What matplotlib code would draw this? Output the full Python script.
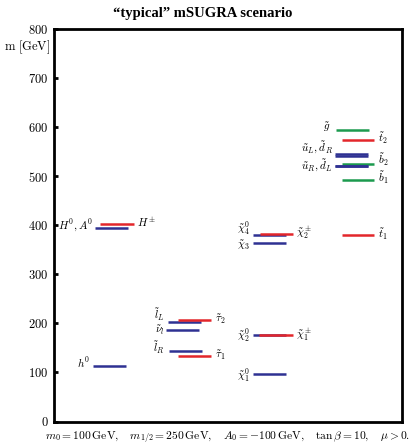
import matplotlib
matplotlib.use("Agg")
from matplotlib import pyplot as plt

plt.rcParams['mathtext.fontset'] = 'cm'
plt.rcParams['font.family'] = ['DejaVu Serif']

BLUE = '#2e3192'
RED = '#e3262b'
GREEN = '#1c9a4e'

# masses in GeV
higgs_names = ['h0', 'H0A0', 'Hpm']
higgs_mass = [114, 395, 403]
slepton_names = ['lL', 'tau2', 'nul', 'lR', 'tau1']
slepton_mass = [203, 206, 186, 144, 134]
gaugino_names = ['chi10', 'chi20', 'chi1pm', 'chi30', 'chi40', 'chi2pm']
gaugino_mass = [97, 177, 177, 363, 381, 383]
squark_names = ['gluino', 't2', 'uL', 'dR', 'b2', 'uR', 'dL', 'b1', 't1']
squark_mass = [595, 573, 546, 541, 525, 520, 521, 492, 380]

# horizontal placement (x0, x1, colour) for each level
layout = {
    'h0': (93, 126, BLUE), 'H0A0': (95, 128, BLUE), 'Hpm': (100, 134, RED),
    'lL': (168, 201, BLUE), 'tau2': (178, 211, RED), 'nul': (166, 199, BLUE),
    'lR': (169, 202, BLUE), 'tau1': (178, 211, RED),
    'chi10': (253, 286, BLUE), 'chi20': (253, 286, BLUE), 'chi1pm': (259, 293, RED),
    'chi30': (253, 286, BLUE), 'chi40': (253, 286, BLUE), 'chi2pm': (260, 293, RED),
    'gluino': (336, 369, GREEN), 't2': (342, 374, RED), 'uL': (335, 368, BLUE),
    'dR': (335, 368, BLUE), 'b2': (342, 374, GREEN), 'uR': (335, 368, BLUE),
    'dL': (335, 368, BLUE), 'b1': (342, 374, GREEN), 't1': (342, 374, RED),
}

# labels: (text, x, mass, alignment)
labels = [
    (r'$h^0$', 90, 120, 'right'),
    (r'$H^0, A^0$', 93, 399, 'right'),
    (r'$H^\pm$', 137, 406, 'left'),
    (r'$\tilde{l}_L$', 165, 217, 'right'),
    (r'$\tilde{\nu}_l$', 165, 187, 'right'),
    (r'$\tilde{l}_R$', 165, 151, 'right'),
    (r'$\tilde{\tau}_2$', 215, 209, 'left'),
    (r'$\tilde{\tau}_1$', 215, 136, 'left'),
    (r'$\tilde{\chi}_1^0$', 250, 95, 'right'),
    (r'$\tilde{\chi}_2^0$', 250, 175, 'right'),
    (r'$\tilde{\chi}_1^\pm$', 296, 176, 'left'),
    (r'$\tilde{\chi}_4^0$', 250, 393, 'right'),
    (r'$\tilde{\chi}_3$', 250, 360, 'right'),
    (r'$\tilde{\chi}_2^\pm$', 296, 385, 'left'),
    (r'$\tilde{g}$', 330, 600, 'right'),
    (r'$\tilde{t}_2$', 378, 578, 'left'),
    (r'$\tilde{u}_L, \tilde{d}_R$', 333, 557, 'right'),
    (r'$\tilde{u}_R, \tilde{d}_L$', 333, 522, 'right'),
    (r'$\tilde{b}_2$', 378, 533, 'left'),
    (r'$\tilde{b}_1$', 378, 497, 'left'),
    (r'$\tilde{t}_1$', 378, 383, 'left'),
]

fig = plt.figure(figsize=(4.16, 4.45), dpi=100)
ax = fig.add_axes([54/416, (445-421.5)/445, 348/416, 392.5/445])

for names, masses in [(higgs_names, higgs_mass), (slepton_names, slepton_mass),
                      (gaugino_names, gaugino_mass), (squark_names, squark_mass)]:
    for n, m in zip(names, masses):
        x0, x1, c = layout[n]
        ax.plot([x0, x1], [m, m], color=c, lw=1.8, solid_capstyle='butt')

for txt, x, m, ha in labels:
    ax.text(x, m, txt, ha=ha, va='center', fontsize=8)

ax.set_xlim(54, 402)
ax.set_ylim(0, 800)
ax.set_xticks([])
ax.set_yticks(range(0, 801, 100))
ax.set_yticklabels([r'$\mathrm{%d}$' % v for v in range(0, 801, 100)], fontsize=9)
ax.tick_params(axis='y', direction='in', length=3, width=2, pad=4)
for s in ax.spines.values():
    s.set_linewidth(2)

fig.text(50/416, 1 - 47/445, r'$\mathrm{m\ [GeV]}$', ha='right', va='center', fontsize=9)
fig.text(203/416, 1 - 14/445, '\u201ctypical\u201d mSUGRA scenario',
         ha='center', va='center', fontsize=10.5, fontweight='bold',
         family=['Liberation Serif', 'DejaVu Serif'])
fig.text(228/416, 1 - 437/445,
         r'$m_0 = 100\,\mathrm{GeV},\ \ \ m_{1/2} = 250\,\mathrm{GeV},\ \ \ '
         r'A_0 = -100\,\mathrm{GeV},\ \ \ \tan\beta = 10,\ \ \ \mu > 0.$',
         ha='center', va='center', fontsize=8.3)

plt.savefig('out.png', dpi=100)
